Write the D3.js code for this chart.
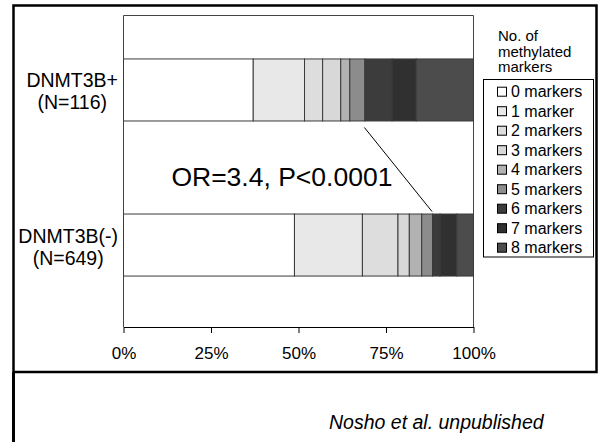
<!DOCTYPE html>
<html lang="en">
<head>
<meta charset="UTF-8">
<title>DNMT3B methylated markers</title>
<script src="https://d3js.org/d3.v7.min.js"></script>
<style>
  body { margin: 0; background: #fff; }
  svg { display: block; font-family: Arial, "Liberation Sans", sans-serif; }
</style>
</head>
<body>
<div id="chart"></div>
<script>
// groups and counts per number of methylated markers (0..8)
const groups = ["DNMT3B+", "DNMT3B(-)"];
const groupN = [116, 649];
const markerLabels = ["0 markers", "1 marker", "2 markers", "3 markers", "4 markers",
                      "5 markers", "6 markers", "7 markers", "8 markers"];
const countsPos = [43, 17, 6, 6, 3, 5, 9, 8, 19];
const countsNeg = [317, 126, 66, 21, 23, 20, 14, 31, 31];
const xTicks = [0, 0.25, 0.5, 0.75, 1];
const shades = ["#ffffff", "#e8e8e8", "#dddddd", "#d8d8d8", "#b2b2b2",
                "#8c8c8c", "#3c3c3c", "#303030", "#4c4c4c"];

const W = 600, H = 442;
const svg = d3.select("#chart").append("svg")
    .attr("width", W).attr("height", H);

// outer frame
svg.append("rect")
    .attr("x", 13.5).attr("y", 5.5).attr("width", 583).attr("height", 366.5)
    .attr("fill", "none").attr("stroke", "#000").attr("stroke-width", 2.5);
svg.append("line")
    .attr("x1", 13.5).attr("x2", 13.5).attr("y1", 372).attr("y2", H)
    .attr("stroke", "#000").attr("stroke-width", 3);

const x = d3.scaleLinear().domain([0, 1]).range([123, 473]);
const y = d3.scaleBand().domain(groups).range([11, 323])
    .paddingInner(0.6).paddingOuter(0.306);
const axisY = 327, plotTop = 15;

// plot area border
svg.append("path")
    .attr("d", `M${x(0) + 0.5},${axisY}V${plotTop + 0.5}H${x(1) + 0.5}V${axisY}`)
    .attr("fill", "none").attr("stroke", "#444");

// stacked rows
const rows = groups.map((g, i) => {
  const counts = i === 0 ? countsPos : countsNeg;
  const total = d3.sum(counts);
  let c = 0;
  return counts.map((v, k) => {
    const seg = {group: g, k, x0: c / total};
    c += v;
    seg.x1 = c / total;
    return seg;
  });
});

svg.append("g").selectAll("g").data(rows).join("g")
  .selectAll("rect").data(d => d).join("rect")
    .attr("x", d => x(d.x0) + 0.5)
    .attr("width", d => x(d.x1) - x(d.x0))
    .attr("y", d => y(d.group) + 0.5)
    .attr("height", y.bandwidth())
    .attr("fill", d => shades[d.k])
    .attr("stroke", "#3a3a3a").attr("stroke-width", 1);

// bottom axis
const ax = svg.append("g")
    .attr("transform", `translate(0.5,${axisY})`)
    .call(d3.axisBottom(x).tickValues(xTicks).tickFormat(d3.format(".0%"))
      .tickSizeInner(6).tickSizeOuter(0).tickPadding(14));
ax.select(".domain").attr("stroke", "#000");
ax.selectAll(".tick line").attr("stroke", "#000");
ax.selectAll(".tick text").attr("font-size", 17).attr("fill", "#000")
    .attr("font-family", "Arial, 'Liberation Sans', sans-serif");

// category labels (two lines, centered to each other, right edge near axis)
groups.forEach((g, i) => {
  const cy = y(g) + y.bandwidth() / 2;
  const t = svg.append("text").attr("font-size", 19.5).attr("fill", "#000")
      .attr("text-anchor", "middle");
  const l1 = t.append("tspan").text(g);
  const l2 = t.append("tspan").text(`(N=${groupN[i]})`);
  const w = Math.max(l1.node().getComputedTextLength(), l2.node().getComputedTextLength());
  const cx = 118 - w / 2;
  l1.attr("x", cx).attr("y", cy - 2);
  l2.attr("x", cx).attr("y", cy + 20);
});

// odds ratio annotation and pointer line
const r0 = rows[0][5], r1 = rows[1][5];
svg.append("line")
    .attr("x1", x(r0.x1)).attr("y1", y(groups[0]) + y.bandwidth() + 7)
    .attr("x2", x(r1.x1)).attr("y2", y(groups[1]) - 2)
    .attr("stroke", "#000").attr("stroke-width", 1);
svg.append("text")
    .attr("x", x(0.454)).attr("y", 186)
    .attr("text-anchor", "middle").attr("font-size", 26.5).attr("fill", "#000")
    .text("OR=3.4, P<0.0001");

// legend
const legTitle = ["No. of", "methylated", "markers"];
svg.append("g").selectAll("text").data(legTitle).join("text")
    .attr("x", 498).attr("y", (d, i) => 41 + i * 15.5)
    .attr("font-size", 15).attr("fill", "#000").text(d => d);

svg.append("rect")
    .attr("x", 483.5).attr("y", 79.5).attr("width", 110).attr("height", 177.5)
    .attr("fill", "#fff").attr("stroke", "#000");

const leg = svg.append("g").selectAll("g").data(markerLabels).join("g")
    .attr("transform", (d, i) => `translate(0,${91.7 + i * 19.5})`);
leg.append("rect")
    .attr("x", 497.5).attr("y", -4.5).attr("width", 9).attr("height", 9)
    .attr("fill", (d, i) => shades[i]).attr("stroke", "#000");
leg.append("text")
    .attr("x", 511).attr("y", 5.5).attr("font-size", 16).attr("fill", "#000")
    .text(d => d);

// source note
svg.append("text")
    .attr("x", 329).attr("y", 429)
    .attr("font-size", 19.5).attr("font-style", "italic").attr("fill", "#000")
    .text("Nosho et al. unpublished");
</script>
</body>
</html>
